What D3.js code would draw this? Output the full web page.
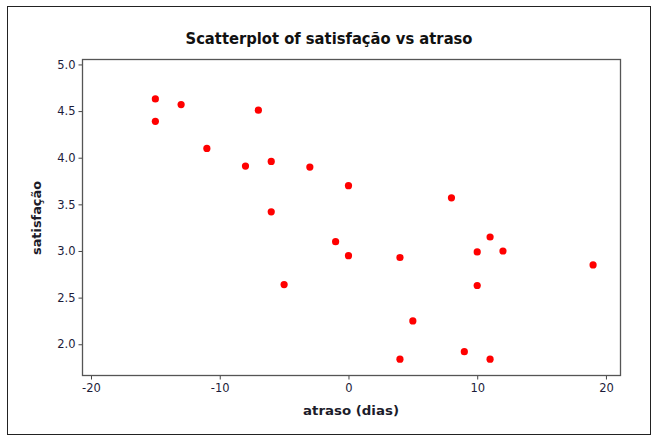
<!DOCTYPE html>
<html lang="en">
	<head>
		<meta charset="utf-8">
		<title>Scatterplot of satisfação vs atraso</title>
		<script type="text/javascript" src="https://cdn.jsdelivr.net/npm/d3@7"></script>
		<style type="text/css">
			body { margin: 0; background: #fff; }
		</style>
	</head>
	<body>
		<script type="text/javascript">

			//Data
			var atraso = [-15, -15, -13, -7, -11, -8, -6, -3, 0, -6, -1, 0, -5, 4, 8, 11, 10, 12, 10, 19, 5, 4, 9, 11];
			var satisfacao = [4.63, 4.39, 4.57, 4.51, 4.10, 3.91, 3.96, 3.90, 3.70, 3.42, 3.10, 2.95, 2.64, 2.93, 3.57, 3.15, 2.99, 3.00, 2.63, 2.85, 2.25, 1.84, 1.92, 1.84];
			var xTicks = [-20, -10, 0, 10, 20];
			var yTicks = [2.0, 2.5, 3.0, 3.5, 4.0, 4.5, 5.0];

			//Width and height
			var w = 662;
			var h = 447;
			var plot = { left: 82.5, top: 59.5, right: 620.5, bottom: 375.5 };

			var svg = d3.select("body")
						.append("svg")
						.attr("width", w)
						.attr("height", h);

			//Outer frame
			svg.append("rect")
				.attr("x", 7.5)
				.attr("y", 6.5)
				.attr("width", 643)
				.attr("height", 428)
				.attr("fill", "white")
				.attr("stroke", "#222")
				.attr("stroke-width", 1);

			var x = d3.scaleLinear()
					  .domain([-20.66, 21.13])
					  .range([plot.left, plot.right]);

			var y = d3.scaleLinear()
					  .domain([1.665, 5.053])
					  .range([plot.bottom, plot.top]);

			//Axes (plain hyphen for negatives, like the original)
			var xAxis = d3.axisBottom(x)
						  .tickValues(xTicks)
						  .tickSize(4)
						  .tickPadding(4)
						  .tickFormat(function(d) { return String(d); });

			var yAxis = d3.axisLeft(y)
						  .tickValues(yTicks)
						  .tickSize(4)
						  .tickPadding(3)
						  .tickFormat(function(d) { return d.toFixed(1); });

			var gx = svg.append("g")
						.attr("transform", "translate(0," + plot.bottom + ")")
						.call(xAxis);

			var gy = svg.append("g")
						.attr("transform", "translate(" + plot.left + ",0)")
						.call(yAxis);

			[gx, gy].forEach(function(g) {
				g.select(".domain").remove();
				g.selectAll("line").attr("stroke", "#444");
				g.selectAll("text")
				 .attr("font-family", "Verdana, 'DejaVu Sans', sans-serif")
				 .attr("font-size", "11.5px")
				 .attr("fill", "#1c1c3a");
			});

			//Plot frame
			svg.append("rect")
				.attr("x", plot.left)
				.attr("y", plot.top)
				.attr("width", plot.right - plot.left)
				.attr("height", plot.bottom - plot.top)
				.attr("fill", "none")
				.attr("stroke", "#555")
				.attr("stroke-width", 1.3);

			//Points
			svg.selectAll("circle")
				.data(atraso)
				.enter()
				.append("circle")
				.attr("cx", function(d) { return x(d); })
				.attr("cy", function(d, i) { return y(satisfacao[i]); })
				.attr("r", 3.6)
				.attr("fill", "#ff0000");

			//Title
			svg.append("text")
				.text("Scatterplot of satisfação vs atraso")
				.attr("x", 329)
				.attr("y", 44)
				.attr("text-anchor", "middle")
				.attr("font-family", "'DejaVu Sans', sans-serif")
				.attr("font-weight", "bold")
				.attr("font-size", "15px")
				.attr("textLength", 287)
				.attr("lengthAdjust", "spacingAndGlyphs")
				.attr("fill", "#111");

			//Axis labels
			svg.append("text")
				.text("atraso (dias)")
				.attr("x", 351)
				.attr("y", 415)
				.attr("text-anchor", "middle")
				.attr("font-family", "'DejaVu Sans', sans-serif")
				.attr("font-weight", "bold")
				.attr("font-size", "13px")
				.attr("textLength", 96)
				.attr("lengthAdjust", "spacingAndGlyphs")
				.attr("fill", "#1c1c2a");

			svg.append("text")
				.text("satisfação")
				.attr("transform", "translate(41,218) rotate(-90)")
				.attr("text-anchor", "middle")
				.attr("font-family", "'DejaVu Sans', sans-serif")
				.attr("font-weight", "bold")
				.attr("font-size", "13px")
				.attr("textLength", 74)
				.attr("lengthAdjust", "spacingAndGlyphs")
				.attr("fill", "#1c1c2a");

		</script>
	</body>
</html>
